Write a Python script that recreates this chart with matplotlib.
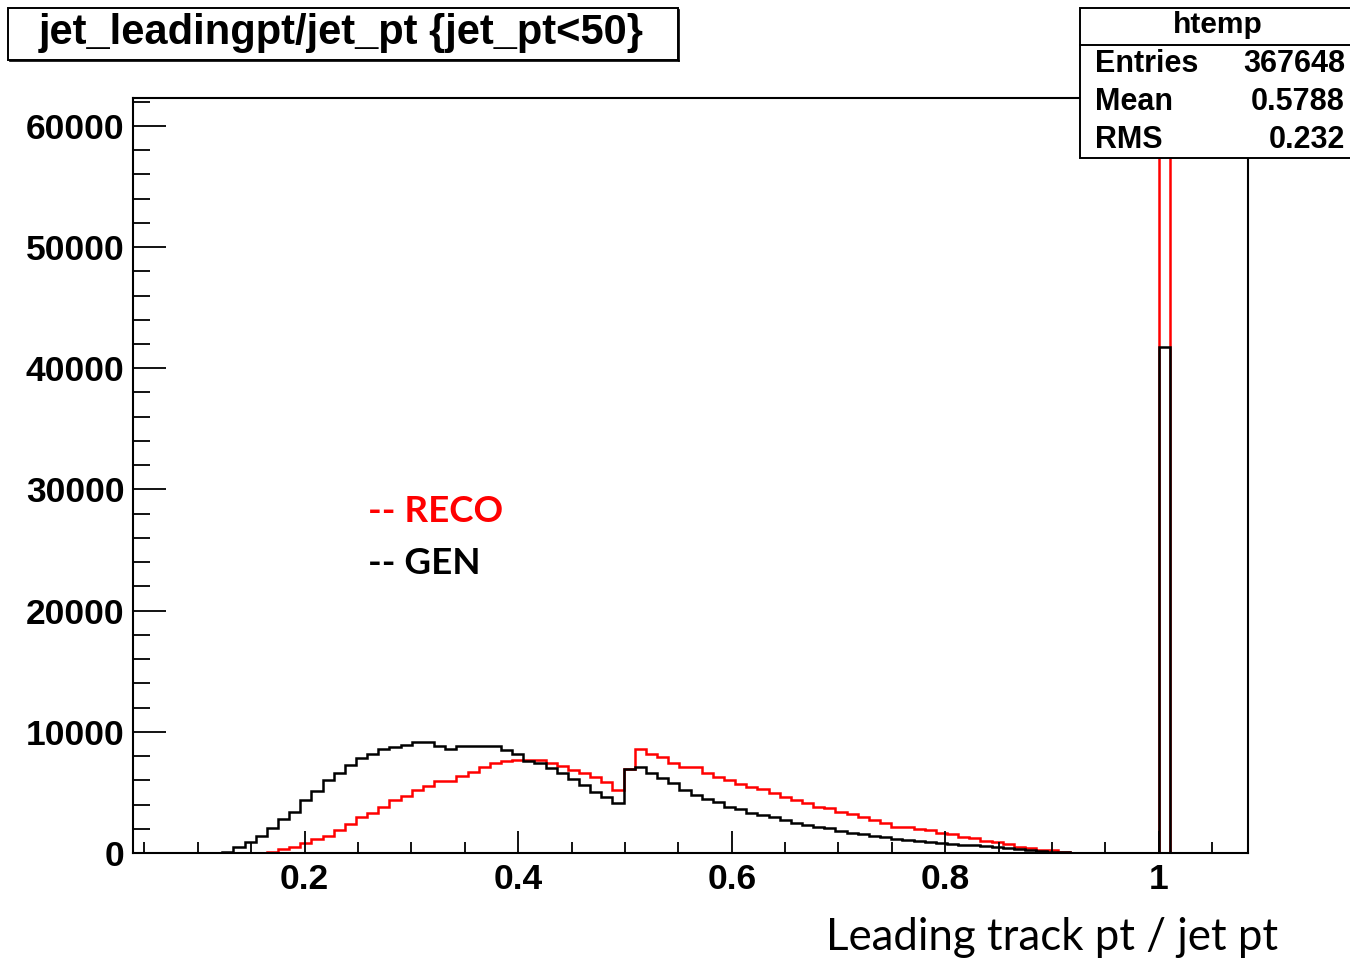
import numpy as np
import matplotlib
matplotlib.use("Agg")
import matplotlib.pyplot as plt
from matplotlib.patches import Rectangle
from matplotlib.lines import Line2D
from matplotlib.ticker import MultipleLocator, FixedLocator

# ---------------- data ----------------
title = "jet_leadingpt/jet_pt {jet_pt<50}"
x_label = "Leading track pt / jet pt"
stats_name = "htemp"
stats_rows = [("Entries", "367648"), ("Mean", "0.5788"), ("RMS", "0.232")]
legend_labels = ["-- RECO", "-- GEN"]

x_range = (0.0393, 1.0835)
n_bins = 100
x_major_ticks = [0.2, 0.4, 0.6, 0.8, 1.0]
x_tick_labels = ["0.2", "0.4", "0.6", "0.8", "1"]
y_major_ticks = [0, 10000, 20000, 30000, 40000, 50000, 60000]
y_tick_labels = ["0", "10000", "20000", "30000", "40000", "50000", "60000"]
y_max = 62300

# GEN histogram contents (bins 0..99)
gen_counts = [0, 0, 0, 0, 0, 0, 0, 0,
              100, 470, 930, 1400, 2040, 2780, 3410, 4370, 5140, 6020,
              6630, 7260, 7810, 8170, 8550, 8770, 8910, 9180, 9180, 8830,
              8550, 8830, 8830, 8830, 8830, 8500, 8150, 7600, 7400, 6990,
              6570, 6080, 5610, 5060, 4650, 4100, 6900, 7120, 6570, 6160,
              5750, 5200, 4790, 4430, 4230, 3820, 3600, 3330, 3140, 2950,
              2720, 2500, 2310, 2170, 2040, 1840, 1680, 1570, 1400, 1290,
              1150, 1100, 1000, 930, 860, 780, 700, 620, 540, 460,
              380, 300, 230, 170, 120, 70,
              0, 0, 0, 0, 0, 0, 0, 0,
              41750,
              0, 0, 0, 0, 0, 0, 0]

# RECO histogram contents (bins 0..99)
reco_counts = [0, 0, 0, 0, 0, 0, 0, 0, 0, 0, 0, 0,
               100, 330, 520, 800, 1130, 1400, 1900, 2400, 2950, 3330,
               3770, 4370, 4700, 5200, 5530, 5900, 5900, 6350, 6710, 7070,
               7420, 7600, 7650, 7700, 7700, 7430, 7190, 6890, 6580, 6260,
               5890, 5200, 6900, 8550, 8140, 7900, 7450, 7120, 7120, 6570,
               6300, 6020, 5690, 5470, 5250, 4920, 4590, 4370, 4100, 3820,
               3690, 3410, 3220, 3000, 2720, 2450, 2170, 2170, 1950, 1900,
               1650, 1550, 1330, 1250, 980, 900, 740, 520, 390, 270,
               230, 110,
               0, 0, 0, 0, 0, 0, 0, 0,
               59300,
               0, 0, 0, 0, 0, 0, 0]

# ---------------- figure ----------------
W, H = 1350, 959
fig = plt.figure(figsize=(W / 100, H / 100), dpi=100)
fig.patch.set_facecolor("white")

def fx(px):
    return px / W

def fy(py):
    return 1 - py / H

L, R, T, B = 133, 1248, 98, 853
ax = fig.add_axes([fx(L), fy(B), (R - L) / W, (B - T) / H])

edges = np.linspace(x_range[0], x_range[1], n_bins + 1)
ax.stairs(reco_counts, edges, baseline=0, color="#ff0000", lw=1.8)
ax.stairs(gen_counts, edges, baseline=0, color="black", lw=1.8)

ax.set_xlim(*x_range)
ax.set_ylim(0, y_max)

bold_font = "Liberation Sans"
ax.xaxis.set_major_locator(FixedLocator(x_major_ticks))
ax.set_xticklabels(x_tick_labels)
ax.xaxis.set_minor_locator(MultipleLocator(0.05))
ax.yaxis.set_major_locator(FixedLocator(y_major_ticks))
ax.set_yticklabels(y_tick_labels)
ax.yaxis.set_minor_locator(MultipleLocator(2000))

for lbl in ax.get_xticklabels() + ax.get_yticklabels():
    lbl.set_fontfamily(bold_font)
    lbl.set_fontweight("bold")
    lbl.set_fontsize(25.5)

ax.tick_params(axis="x", which="major", direction="in", length=16, width=1.3,
               top=False, pad=7)
ax.tick_params(axis="x", which="minor", direction="in", length=8, width=1.3,
               top=False)
ax.tick_params(axis="y", which="major", direction="in", length=24, width=1.3,
               right=False, pad=6)
ax.tick_params(axis="y", which="minor", direction="in", length=12, width=1.3,
               right=False)
for sp in ax.spines.values():
    sp.set_linewidth(1.5)

# legend-like text
fig.text(fx(368), fy(512), legend_labels[0], color="#ff0000",
         fontfamily="Lato", fontweight="bold", fontsize=26.5, va="center", ha="left")
fig.text(fx(368), fy(563), legend_labels[1], color="black",
         fontfamily="Lato", fontweight="bold", fontsize=26.5, va="center", ha="left")

# x-axis label
fig.text(fx(1052), fy(937), x_label, fontfamily="Lato", fontsize=31.5,
         ha="center", va="center", color="black")

# title box
fig.add_artist(Rectangle((fx(8), fy(60)), fx(678) - fx(8), fy(8) - fy(60),
                         transform=fig.transFigure, facecolor="white",
                         edgecolor="black", lw=1.4, zorder=5))
fig.add_artist(Line2D([fx(10), fx(679)], [fy(61), fy(61)], transform=fig.transFigure,
                      color="black", lw=1.2, zorder=6))
fig.add_artist(Line2D([fx(679), fx(679)], [fy(10), fy(61)], transform=fig.transFigure,
                      color="black", lw=1.2, zorder=6))
fig.text(fx(341), fy(33), title, fontfamily=bold_font, fontweight="bold",
         fontsize=30, ha="center", va="center", zorder=7)

# stats box
fig.add_artist(Rectangle((fx(1080), fy(158)), fx(1360) - fx(1080), fy(8) - fy(158),
                         transform=fig.transFigure, facecolor="white",
                         edgecolor="black", lw=1.4, zorder=5))
fig.add_artist(Line2D([fx(1080), fx(1350)], [fy(45), fy(45)], transform=fig.transFigure,
                      color="black", lw=1.4, zorder=6))
fig.text(fx(1218), fy(25), stats_name, fontfamily=bold_font, fontweight="bold",
         fontsize=21.5, ha="center", va="center", zorder=7)
row_y = [64, 102, 140]
for (name, val), yy in zip(stats_rows, row_y):
    fig.text(fx(1095), fy(yy), name, fontfamily=bold_font, fontweight="bold",
             fontsize=22, ha="left", va="center", zorder=7)
    fig.text(fx(1345), fy(yy), val, fontfamily=bold_font, fontweight="bold",
             fontsize=22, ha="right", va="center", zorder=7)

fig.savefig("out.png", dpi=100, facecolor="white")
